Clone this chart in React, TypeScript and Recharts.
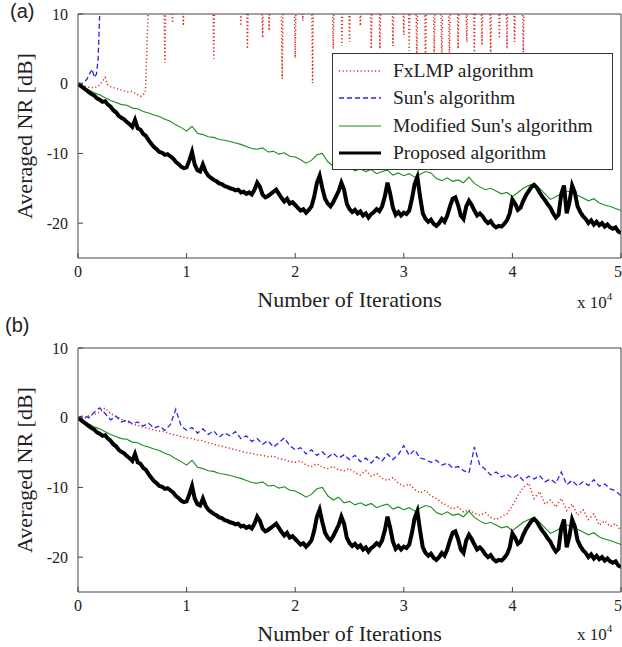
import { LineChart, Line, XAxis, YAxis, Legend } from 'recharts'

// x axis in iterations, y in dB
const xTicks = [0, 10000, 20000, 30000, 40000, 50000]
const yTicks = [-20, -10, 0, 10]

// Proposed algorithm, sampled every 250 iterations
const proposed = [
  0, -0.3, -0.6, -0.9, -1.2, -1.5, -1.7, -2.1, -2.3, -2.6, -2.5, -3.0, -3.3, -3.8, -4.1, -4.6, -4.9, -5.1, -5.5, -5.8,
  -6.2, -5.2, -6.4, -6.6, -7.2, -7.5, -8.1, -8.6, -9.1, -9.4, -9.8, -9.9, -10.2, -10.1, -10.4, -10.7, -11.2, -11.5, -11.9, -12.1,
  -12.0, -11.0, -9.8, -11.6, -12.4, -12.6, -11.6, -12.6, -13.2, -13.5, -13.8, -14.0, -14.3, -14.4, -14.7, -14.8, -15.0, -15.1, -15.3, -15.2,
  -15.6, -15.5, -15.8, -15.6, -15.9, -15.2, -14.2, -14.8, -15.9, -16.3, -16.1, -15.8, -15.5, -15.2, -15.8, -16.4, -16.9, -16.5, -17.2, -17.0,
  -17.4, -17.8, -18.2, -18.0, -18.5, -18.1, -17.6, -16.2, -14.2, -13.2, -15.0, -16.5, -17.2, -17.6, -17.0, -16.2, -15.4, -14.2, -15.2, -17.2,
  -18.0, -18.4, -18.1, -18.6, -18.3, -18.9, -18.6, -19.2, -18.7, -18.4, -18.0, -18.3, -17.6, -16.2, -14.2, -15.8, -17.8, -18.8, -18.4, -18.9,
  -18.5, -18.7, -18.2, -16.5, -14.4, -13.4, -16.2, -18.6, -19.4, -19.8, -19.5, -20.1, -20.4, -20.0, -19.4, -19.8, -18.9, -17.6, -16.5, -16.3,
  -17.4, -18.9, -19.4, -17.6, -16.8, -17.4, -18.2, -18.9, -18.6, -19.0, -19.6, -20.0, -19.7, -20.3, -20.6, -20.4, -20.5, -20.1, -19.6, -18.6,
  -16.6, -17.2, -18.1, -17.8, -16.8, -16.0, -15.4, -14.8, -14.5, -14.9, -15.6, -16.2, -16.7, -17.3, -17.8, -18.6, -19.2, -18.8, -15.8, -14.6,
  -18.6, -17.0, -14.6, -15.6, -17.6, -18.4, -19.0, -19.4, -20.0, -19.6, -20.2, -19.8, -20.3, -20.0, -20.5, -20.2, -20.6, -20.8, -20.6, -21.2, -21.4,
]

// Modified Sun's algorithm, every 500 iterations
const modifiedSun = [
  0, -0.5, -0.9, -1.3, -1.6, -2.0, -2.4, -2.7, -3.0, -3.1,
  -3.5, -3.6, -4.0, -4.2, -4.5, -4.7, -5.1, -5.4, -5.9, -6.3,
  -6.8, -6.1, -7.1, -7.3, -7.6, -7.7, -8.0, -8.1, -8.3, -8.5,
  -8.7, -9.0, -9.3, -9.4, -9.2, -9.8, -9.7, -10.1, -9.9, -10.4,
  -10.5, -10.9, -11.4, -11.0, -10.2, -10.0, -11.2, -11.8, -11.4, -12.2,
  -12.0, -12.5, -12.2, -12.6, -12.3, -12.9, -12.6, -12.4, -13.1, -12.8,
  -13.2, -12.9, -13.4, -13.0, -12.6, -12.8, -13.6, -13.9, -13.5, -14.0,
  -13.8, -14.2, -13.4, -14.3, -14.8, -15.2, -15.0, -15.4, -15.8, -15.6,
  -16.2, -15.6, -15.0, -14.6, -14.3, -15.0, -15.8, -16.6, -16.2, -15.8,
  -15.4, -15.6, -16.0, -16.4, -16.8, -16.5, -17.1, -17.4, -17.6, -17.9,
  -18.2,
]

// Sun's algorithm in panel (b), every 500 iterations
const sunB = [
  0, 0.3, 0.0, 0.8, 1.4, 0.6, -0.3, 0.2, -0.6, -0.3,
  -0.9, -0.6, -1.2, -0.8, -1.5, -1.2, -1.8, -1.0, 1.2, -1.2,
  -1.8, -1.4, -2.2, -1.6, -2.4, -1.9, -2.8, -2.2, -2.6, -2.0,
  -3.0, -2.6, -3.4, -3.0, -3.8, -3.3, -4.2, -3.6, -2.9, -4.0,
  -4.6, -4.3, -5.2, -4.6, -5.4, -4.9, -5.7, -5.1, -5.8, -5.3,
  -6.0, -5.4, -6.3, -5.8, -6.5, -5.6, -6.2, -5.2, -6.0, -5.3,
  -4.0, -5.4, -4.6, -5.8, -6.0, -6.4, -6.1, -6.8, -6.5, -7.2,
  -7.0, -7.6, -7.9, -4.2, -6.8, -7.4, -8.2, -7.8, -8.5, -8.1,
  -8.7, -8.2, -9.0, -8.4, -8.8, -8.3, -9.2, -8.8, -9.4, -7.8,
  -9.6, -9.0, -9.8, -9.2, -9.7, -8.9, -9.8, -9.5, -10.2, -10.5,
  -11.2,
]

// FxLMP in panel (b), every 500 iterations
const fxlmpB = [
  0, -0.2, 0.3, 0.5, 0.8, 1.4, 0.6, 0.2, -0.2, -0.6,
  -0.9, -1.1, -1.4, -1.5, -1.8, -1.9, -2.0, -2.3, -2.5, -2.7,
  -2.9, -3.0, -3.2, -3.3, -3.6, -3.8, -4.0, -4.2, -4.4, -4.6,
  -4.8, -5.0, -5.1, -5.3, -5.4, -5.6, -5.5, -5.9, -6.0, -6.3,
  -6.4, -6.2, -6.8, -7.0, -6.6, -7.1, -7.3, -7.0, -7.5, -7.6,
  -7.3, -7.9, -8.2, -7.6, -8.4, -8.0, -8.7, -9.0, -8.6, -9.4,
  -9.8, -9.5, -10.3, -10.8, -10.4, -11.2, -11.6, -12.2, -12.6, -13.1,
  -12.8, -13.5, -13.2, -13.7, -14.0, -13.6, -14.3, -14.6, -14.2, -13.8,
  -12.6, -11.2, -10.0, -9.4, -11.6, -10.6, -12.4, -11.8, -12.8, -11.6,
  -13.3, -12.4, -14.0, -13.2, -14.6, -13.8, -15.4, -14.8, -15.6, -15.2,
  -16.2,
]

// Sun's algorithm in panel (a): diverges almost at once
const sunAX = [0, 500, 800, 1300, 1500, 1700, 1850, 2000, 2100]
const sunAY = [0, 0.1, 0.6, 2.1, 0.9, 1.4, 3.5, 10, 14]

// FxLMP in panel (a): converges a little, then diverges above the plot range
const fxlmpAX = [0, 500, 1000, 1500, 2000, 2500, 2700, 3000, 3500, 4000, 4500, 5000, 5500, 5800, 6200, 6500]
const fxlmpAY = [0, -0.3, -0.5, -0.6, -0.2, 0.9, -0.1, -0.4, -0.7, -0.9, -1.2, -1.1, -1.6, -1.8, -1.3, 12]
// short excursions back into the visible range after divergence
const fxlmpDipX = [8000, 8700, 9700, 12500, 15000, 15600, 17000, 17600, 18800, 20000, 20700, 21600, 23500, 24300, 25000,
  26000, 27000, 27800, 29000, 30000, 30500, 31200, 32000, 32800, 33500, 34200, 35000, 35800, 36500, 37200, 38000, 38800,
  39500, 40200, 41000]
const fxlmpDipY = [3.0, 8.7, 8.3, 3.6, 8.3, 5.0, 6.6, 7.6, 0.7, 3.7, 9.0, 0.1, 5.0, 5.4, 6.0,
  8.3, 5.0, 5.0, 5.4, 7.0, 4.7, 3.0, 2.0, 4.0, 2.5, 3.5, 5.0, 6.0, 4.5, 5.5, 4.5, 6.5,
  5.0, 6.0, 4.5]
const OFF_SCALE = 12

const stepped = (vals: number[], step: number) => vals.map((y, i) => ({ x: i * step, y }))
const paired = (xs: number[], ys: number[]) => xs.map((x, i) => ({ x, y: ys[i] }))

const fxlmpA = [
  ...paired(fxlmpAX, fxlmpAY),
  ...fxlmpDipX.flatMap((x, i) => [
    { x: x - 80, y: OFF_SCALE },
    { x, y: fxlmpDipY[i] },
    { x: x + 80, y: OFF_SCALE },
  ]),
  { x: 50000, y: OFF_SCALE },
]

const RED = '#e02a22'
const BLUE = '#2525e8'
const GREEN = '#1c8c1c'
const BLACK = '#000000'

type Series = { name: string; data: { x: number; y: number }[]; color: string; width: number; dash?: string }

const styleOf = {
  fxlmp: { color: RED, width: 1.5, dash: '1.2 2.4' },
  sun: { color: BLUE, width: 1.3, dash: '5 3' },
  modified: { color: GREEN, width: 1.1 },
  proposed: { color: BLACK, width: 4 },
}

const seriesA: Series[] = [
  { name: 'FxLMP algorithm', data: fxlmpA, ...styleOf.fxlmp },
  { name: "Sun's algorithm", data: paired(sunAX, sunAY), ...styleOf.sun },
  { name: "Modified Sun's algorithm", data: stepped(modifiedSun, 500), ...styleOf.modified },
  { name: 'Proposed algorithm', data: stepped(proposed, 250), ...styleOf.proposed },
]

const seriesB: Series[] = [
  { name: 'FxLMP algorithm', data: stepped(fxlmpB, 500), ...styleOf.fxlmp },
  { name: "Sun's algorithm", data: stepped(sunB, 500), ...styleOf.sun },
  { name: "Modified Sun's algorithm", data: stepped(modifiedSun, 500), ...styleOf.modified },
  { name: 'Proposed algorithm', data: stepped(proposed, 250), ...styleOf.proposed },
]

const SERIF = '"Liberation Serif", "Times New Roman", serif'
const AXIS = '#444'

function LegendBox({ items }: { items: Series[] }) {
  return (
    <div style={{ width: 279, height: 112, border: '1px solid #333', background: '#fff', paddingTop: 3, boxSizing: 'content-box' }}>
      {items.map(s => (
        <div key={s.name} style={{ display: 'flex', alignItems: 'center', height: 27.5 }}>
          <svg width={58} height={10} style={{ marginLeft: 2 }}>
            <line x1={4} y1={5} x2={46} y2={5} stroke={s.color} strokeWidth={s.width === 4 ? 3 : s.width} strokeDasharray={s.dash} />
          </svg>
          <span style={{ fontFamily: SERIF, fontSize: 19.5, color: '#222', whiteSpace: 'nowrap' }}>{s.name}</span>
        </div>
      ))}
    </div>
  )
}

function Panel({ series, legend }: { series: Series[]; legend?: boolean }) {
  return (
    <LineChart width={622} height={313} margin={{ top: 13, right: 0, left: 0, bottom: 0 }}>
      <XAxis
        xAxisId="b" dataKey="x" type="number" domain={[0, 50000]} ticks={xTicks} allowDataOverflow
        tickFormatter={(v: number) => String(v / 10000)} height={55} tickSize={-5} tickMargin={13}
        stroke={AXIS} tick={{ fontFamily: SERIF, fontSize: 16, fill: '#222' }}
        label={{ value: 'Number of Iterations', position: 'insideBottom', offset: 6, fontFamily: SERIF, fontSize: 22, fill: '#222' }}
      />
      <XAxis xAxisId="t" orientation="top" dataKey="x" type="number" domain={[0, 50000]} ticks={xTicks}
        height={1} tickSize={-5} tick={false} stroke={AXIS} />
      <YAxis
        yAxisId="l" type="number" domain={[-25, 10]} ticks={yTicks} allowDataOverflow width={78}
        tickSize={-5} tickMargin={15} stroke={AXIS} tick={{ fontFamily: SERIF, fontSize: 16, fill: '#222' }}
      />
      <YAxis yAxisId="r" orientation="right" type="number" domain={[-25, 10]} ticks={yTicks}
        width={1} tickSize={-5} tick={false} stroke={AXIS} />
      {series.map(s => (
        <Line
          key={s.name} name={s.name} xAxisId="b" yAxisId="l" data={s.data} dataKey="y" type="linear"
          stroke={s.color} strokeWidth={s.width} strokeDasharray={s.dash} dot={false} activeDot={false}
          isAnimationActive={false}
        />
      ))}
      {legend && (
        <Legend
          layout="vertical" align="center" verticalAlign="middle"
          wrapperStyle={{ left: 332, top: 53, width: 281 }}
          content={() => <LegendBox items={series} />}
        />
      )}
    </LineChart>
  )
}

const overlayText = { position: 'absolute' as const, fontFamily: SERIF, color: '#222', whiteSpace: 'nowrap' as const }

function YLabel({ top }: { top: number }) {
  return (
    <div style={{ ...overlayText, left: 25, top, fontSize: 22, transform: 'translate(-50%, -50%) rotate(-90deg)' }}>
      Averaged NR [dB]
    </div>
  )
}

function Scale({ top }: { top: number }) {
  return (
    <div style={{ ...overlayText, left: 577, top, fontSize: 17 }}>
      x 10<sup style={{ fontSize: 11, verticalAlign: 8 }}>4</sup>
    </div>
  )
}

export default function App() {
  return (
    <div style={{ position: 'absolute', left: 0, top: 0, width: 622, height: 647, background: '#fff', overflow: 'hidden' }}>
      <div style={{ position: 'absolute', left: 0, top: 0 }}>
        <Panel series={seriesA} legend />
      </div>
      <div style={{ position: 'absolute', left: 0, top: 334 }}>
        <Panel series={seriesB} />
      </div>
      <YLabel top={136} />
      <YLabel top={470} />
      <Scale top={290} />
      <Scale top={622} />
      <div style={{ ...overlayText, fontFamily: '"Liberation Sans", Arial, sans-serif', fontSize: 20, left: 10, top: 0 }}>(a)</div>
      <div style={{ ...overlayText, fontFamily: '"Liberation Sans", Arial, sans-serif', fontSize: 20, left: 5, top: 314 }}>(b)</div>
    </div>
  )
}
